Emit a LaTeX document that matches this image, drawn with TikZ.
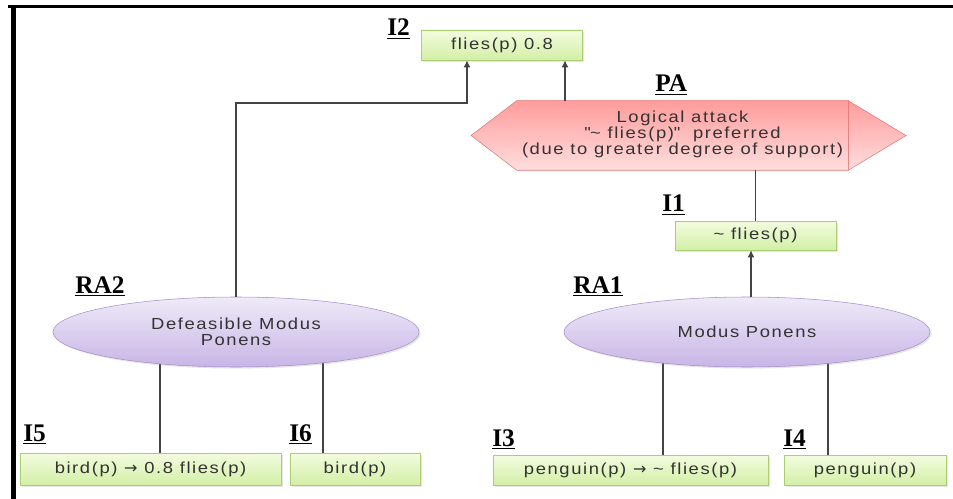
\documentclass[tikz,border=0pt]{standalone}
\usepackage{fontspec}
\setmainfont{Liberation Sans}
\newfontfamily\tagserif{Liberation Serif}
\newfontfamily\symfont{DejaVu Sans}
\usetikzlibrary{shapes.geometric,arrows.meta,shadows,backgrounds}

\newdimen\px \px=0.75pt
\definecolor{infotop}{HTML}{F3FCDF}
\definecolor{infobot}{HTML}{D3EFA6}
\definecolor{infoline}{HTML}{A9CF72}
\definecolor{ruletop}{HTML}{EFEAF8}
\definecolor{rulebot}{HTML}{C8B5E6}
\definecolor{ruleline}{HTML}{A58ECB}
\definecolor{patop}{HTML}{FF9C9C}
\definecolor{pabot}{HTML}{FFDEDE}
\definecolor{paline}{HTML}{E07575}
\definecolor{wire}{HTML}{444444}
\definecolor{ink}{HTML}{333333}

\newcommand\boxfont{\fontsize{12}{12.2}\selectfont\addfontfeatures{FakeStretch=1.15,LetterSpace=10}}
\newcommand\tagfont{\tagserif\bfseries\fontsize{19}{20}\selectfont}
\newcommand\dq{\XeTeXglyph\XeTeXcharglyph"22\relax}
\newcommand\imp{{\symfont →}}

\begin{document}
\begin{tikzpicture}[x=\px,y=-\px,
  info/.style={draw=infoline, top color=infotop, bottom color=infobot,
    minimum height=30\px, inner sep=0pt, text=ink, font=\boxfont,
    drop shadow={shadow xshift=1.2pt, shadow yshift=-1.2pt, opacity=0.2}},
  rule/.style={ellipse, draw=ruleline, top color=ruletop, bottom color=rulebot,
    minimum width=366\px, minimum height=70\px, inner sep=0pt, text=ink,
    font=\boxfont, align=center,
    drop shadow={shadow xshift=1.2pt, shadow yshift=-1.2pt, opacity=0.2}},
  tag/.style={anchor=base west, inner sep=0pt, font=\tagfont},
  link/.style={draw=wire, line width=1.1pt},
  arr/.style={link, -{Latex[length=5.25pt,width=5.25pt]}}]
\useasboundingbox (0,0) rectangle (953,499);

\draw[line width=3\px] (8,6.5) -- (953,6.5);
\draw[line width=5\px] (13,5) -- (13,499);

% preference application
\node[minimum width=331\px, minimum height=69\px, inner sep=0pt] (PA) at (682.5,135.5) {};
\draw[draw=paline, top color=pabot, bottom color=patop, shading angle=180]
  (PA.north east) -- (906,135.5) -- (PA.south east) -- cycle;
\draw[draw=paline, top color=patop, bottom color=pabot]
  (PA.north west) -- (PA.north east) -- (PA.south east) -- (PA.south west) -- (471,135.5) -- cycle;
\node[text=ink, font=\boxfont, align=center, inner sep=0pt] (PAtext) at ([yshift=1\px]PA.center)
  {Logical attack\\\dq\textasciitilde\ flies(p)\dq\ \ preferred\\(due to greater degree of support)};

\node[info, minimum width=161\px] (I2) at (502,45) {flies(p) 0.8};
\node[info, minimum width=161\px, minimum height=29\px] (I1) at (755.5,235.5) {\textasciitilde\ flies(p)};

\node[rule] (RA2) at (236,332) {Defeasible Modus\\Ponens};
\node[rule] (RA1) at (747,332) {Modus Ponens};

\node[info, minimum width=261\px, minimum height=32\px] (I5) at (150.5,469) {bird(p) \imp\ 0.8 flies(p)};
\node[info, minimum width=130\px, minimum height=32\px] (I6) at (355,469) {bird(p)};
\node[info, minimum width=275\px] (I3) at (630.5,470) {penguin(p) \imp\ \textasciitilde\ flies(p)};
\node[info, minimum width=162\px] (I4) at (865,470) {penguin(p)};

\node[tag] (tI2) at (387,36) {\underline{I2}};
\node[tag] (tPA) at (655,92) {\underline{PA}};
\node[tag] (tI1) at (662,212) {\underline{I1}};
\node[tag] (tRA2) at (75,293) {\underline{RA2}};
\node[tag] (tRA1) at (573,293) {\underline{RA1}};
\node[tag] (tI5) at (23,441) {\underline{I5}};
\node[tag] (tI6) at (289,441) {\underline{I6}};
\node[tag] (tI3) at (492,446) {\underline{I3}};
\node[tag] (tI4) at (783,446) {\underline{I4}};

\coordinate (elbow) at (467,103);
\draw[arr] (RA2.north) |- (elbow) -- ([xshift=-35\px]I2.south);
\draw[arr] ([xshift=63\px]I2.south |- PA.north) -- ([xshift=63\px]I2.south);
\draw[link] (I1.north |- PA.south) -- (I1.north);
\draw[arr] ([xshift=-4.5\px]I1.south |- RA1.north) -- ([xshift=-4.5\px]I1.south);

\begin{scope}[on background layer]
\draw[link] ([xshift=9.5\px]I5.north) -- ([xshift=9.5\px]I5.north |- RA2.center);
\draw[link] ([xshift=-32\px]I6.north) -- ([xshift=-32\px]I6.north |- RA2.center);
\draw[link] ([xshift=32.5\px]I3.north) -- ([xshift=32.5\px]I3.north |- RA1.center);
\draw[link] ([xshift=-37\px]I4.north) -- ([xshift=-37\px]I4.north |- RA1.center);
\end{scope}
\end{tikzpicture}
\end{document}
